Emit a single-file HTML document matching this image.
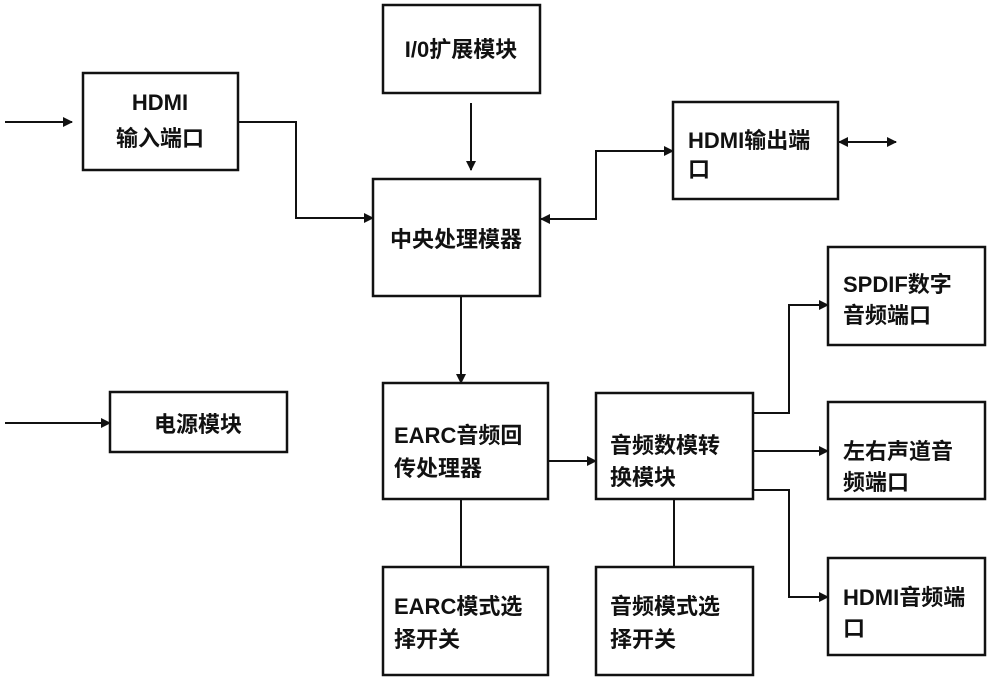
<!DOCTYPE html>
<html><head><meta charset="utf-8"><style>
html,body{margin:0;padding:0;background:#fff;}
svg text{font-family:"Liberation Sans","Noto Sans CJK SC",sans-serif;font-weight:bold;font-size:22px;fill:#111;}
</style></head><body>
<svg width="1000" height="681" viewBox="0 0 1000 681" xmlns="http://www.w3.org/2000/svg">
<defs><marker id="a" markerWidth="10" markerHeight="10" refX="9" refY="5" orient="auto" markerUnits="userSpaceOnUse"><path d="M0,0 L10,5 L0,10 z" fill="#111"/></marker>
<marker id="b" markerWidth="10" markerHeight="10" refX="1" refY="5" orient="auto" markerUnits="userSpaceOnUse"><path d="M10,0 L0,5 L10,10 z" fill="#111"/></marker></defs>
<g fill="none" stroke="#111" stroke-width="2.5">
<rect x="83" y="73" width="155" height="97"/>
<rect x="383" y="5" width="157" height="88"/>
<rect x="373" y="179" width="167" height="117"/>
<rect x="673" y="102" width="165" height="97"/>
<rect x="828" y="247" width="157" height="98"/>
<rect x="110" y="392" width="177" height="60"/>
<rect x="383" y="383" width="165" height="116"/>
<rect x="596" y="393" width="157" height="106"/>
<rect x="828" y="402" width="157" height="97"/>
<rect x="828" y="558" width="157" height="97"/>
<rect x="383" y="567" width="165" height="108"/>
<rect x="596" y="567" width="157" height="108"/>
</g>
<g fill="none" stroke="#111" stroke-width="2">
<line x1="5" y1="122" x2="72" y2="122" marker-end="url(#a)"/>
<polyline points="238,122 296,122 296,218 373,218" marker-end="url(#a)"/>
<line x1="471" y1="103" x2="471" y2="170" marker-end="url(#a)"/>
<polyline points="541,219 596,219 596,151 673,151" marker-start="url(#b)" marker-end="url(#a)"/>
<line x1="839" y1="142" x2="896" y2="142" marker-start="url(#b)" marker-end="url(#a)"/>
<line x1="5" y1="423" x2="110" y2="423" marker-end="url(#a)"/>
<line x1="461" y1="296" x2="461" y2="383" marker-end="url(#a)"/>
<line x1="548" y1="461" x2="596" y2="461" marker-end="url(#a)"/>
<polyline points="753,413 789,413 789,305 828,305" marker-end="url(#a)"/>
<line x1="753" y1="451" x2="828" y2="451" marker-end="url(#a)"/>
<polyline points="753,490 789,490 789,597 828,597" marker-end="url(#a)"/>
<line x1="461" y1="499" x2="461" y2="567"/>
<line x1="674" y1="499" x2="674" y2="567"/>
</g>
<text x="160" y="110" text-anchor="middle">HDMI</text>
<text x="160" y="146" text-anchor="middle">输入端口</text>
<text x="461" y="57" text-anchor="middle">I/0扩展模块</text>
<text x="456" y="247" text-anchor="middle">中央处理模器</text>
<text x="688" y="148">HDMI输出端</text>
<text x="688" y="177">口</text>
<text x="843" y="292">SPDIF数字</text>
<text x="843" y="323">音频端口</text>
<text x="198" y="432" text-anchor="middle">电源模块</text>
<text x="394" y="443">EARC音频回</text>
<text x="394" y="476">传处理器</text>
<text x="610" y="453">音频数模转</text>
<text x="610" y="485">换模块</text>
<text x="843" y="459">左右声道音</text>
<text x="843" y="490">频端口</text>
<text x="843" y="605">HDMI音频端</text>
<text x="843" y="636">口</text>
<text x="394" y="614">EARC模式选</text>
<text x="394" y="647">择开关</text>
<text x="610" y="614">音频模式选</text>
<text x="610" y="647">择开关</text>
</svg>
</body></html>
